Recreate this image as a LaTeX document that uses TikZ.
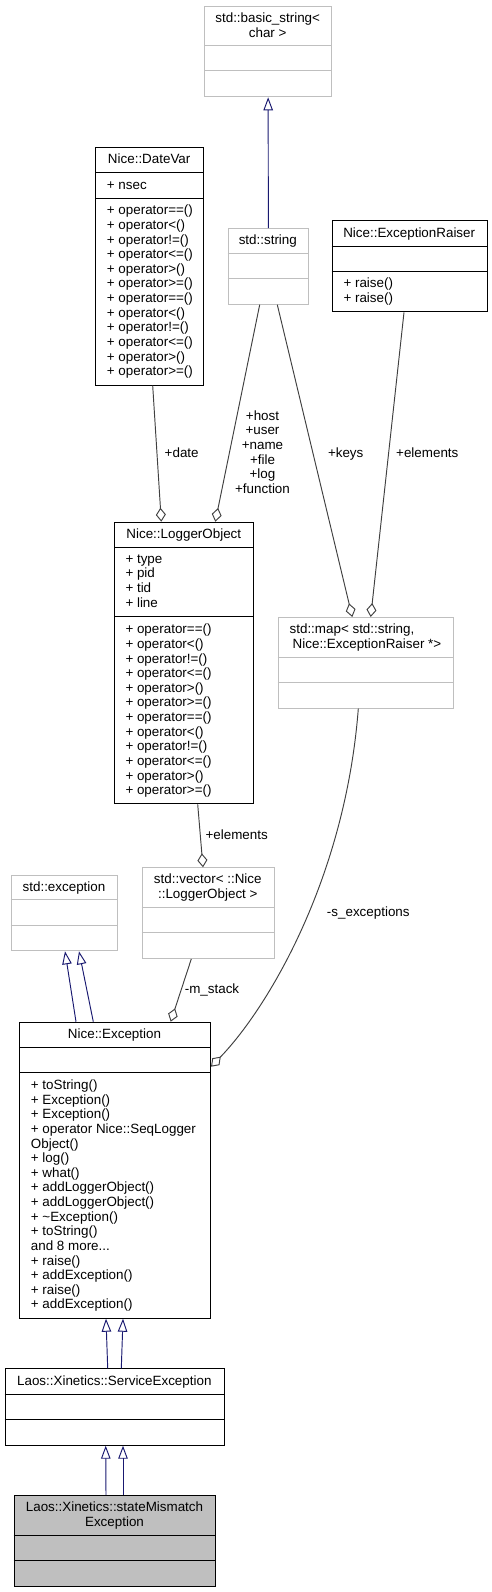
\documentclass[tikz,border=0pt]{standalone}
\usepackage{fontspec}
\setmainfont{Liberation Sans}
\usetikzlibrary{arrows.meta,calc}
\definecolor{edgegray}{HTML}{404040}
\definecolor{inhblue}{HTML}{191970}
\definecolor{boxgray}{HTML}{BFBFBF}
\tikzset{
  blackbox/.style={draw=black, line width=1pt, inner sep=0pt},
  graybox/.style={draw=boxgray, line width=1pt, inner sep=0pt},
  grayfill/.style={draw=black, fill=boxgray, line width=1pt, inner sep=0pt},
  txt/.style={inner sep=0pt, font=\fontsize{13.4}{14.67}\selectfont},
  agg/.style={draw=edgegray, line width=0.95pt, -{Diamond[open, length=14pt, width=10pt]}},
  inh/.style={draw=inhblue, line width=0.95pt, -{Triangle[open, length=13pt, width=9.5pt]}},
}
% name, style, sepcolor, x1, y1, x2, y2, s1, s2
\newcommand{\umlbox}[9]{%
  \node[#2, anchor=north west, minimum width={(#6-#4)*1pt}, minimum height={(#7-#5)*1pt}] (#1) at (#4,#5) {};
  \draw[draw=#3, line width=1pt] (#4,#8) -- (#6,#8);
  \draw[draw=#3, line width=1pt] (#4,#9) -- (#6,#9);
}
% prefix, x, y0 (baseline), anchor, list
\newcommand{\txtlines}[5]{%
  \foreach \t [count=\i from 0] in {#5}
    \node[txt, anchor=#4] (#1\i) at (#2,{#3+\i*14.63}) {\t};
}
\begin{document}
\begin{tikzpicture}[x=1pt, y=-1pt]
\useasboundingbox (0,0) rectangle (492,1592);

% boxes
\umlbox{basic}{graybox}{boxgray}{204.3}{5.7}{331}{96.3}{45.7}{71}
\umlbox{string}{graybox}{boxgray}{227.7}{228}{308}{303.7}{253.3}{278.3}
\umlbox{datevar}{blackbox}{black}{95}{147}{203.3}{384.7}{172.7}{198}
\umlbox{raiser}{blackbox}{black}{331.7}{220.3}{486.7}{311.3}{246}{271.3}
\umlbox{logger}{blackbox}{black}{114.3}{521.7}{253.3}{803.3}{547}{616.7}
\umlbox{map}{graybox}{boxgray}{277.7}{617}{452.7}{707.7}{657.3}{682.7}
\umlbox{stdexc}{graybox}{boxgray}{10.7}{874.7}{117.3}{950.3}{899.7}{925.3}
\umlbox{vector}{graybox}{boxgray}{141.7}{867.3}{274}{958}{907}{932.7}
\umlbox{exc}{blackbox}{black}{19}{1021.7}{210}{1317.7}{1047.3}{1072.7}
\umlbox{svc}{blackbox}{black}{4.7}{1368.3}{224}{1444.7}{1394}{1419.3}
\umlbox{smx}{grayfill}{black}{13.7}{1495}{215.3}{1586}{1535.3}{1560.7}

% titles
\node[txt, anchor=base] (basicT1) at (267.7,22.2) {std::basic\_string<};
\node[txt, anchor=base] (basicT2) at (267.7,37.2) {char >};
\node[txt, anchor=base] (stringT) at (267.8,244.2) {std::string};
\node[txt, anchor=base] (datevarT) at (149.2,163.2) {Nice::DateVar};
\node[txt, anchor=base] (raiserT) at (409.2,237.2) {Nice::ExceptionRaiser};
\node[txt, anchor=base] (loggerT) at (183.8,538.2) {Nice::LoggerObject};
\node[txt, anchor=base] (mapT1) at (352,633.5) {std::map< std::string,};
\node[txt, anchor=base] (mapT2) at (367,648.2) {Nice::ExceptionRaiser *>};
\node[txt, anchor=base] (stdexcT) at (64,891.2) {std::exception};
\node[txt, anchor=base] (vectorT1) at (207.8,883.5) {std::vector< ::Nice};
\node[txt, anchor=base] (vectorT2) at (207.8,898.5) {::LoggerObject >};
\node[txt, anchor=base] (excT) at (114.5,1038) {Nice::Exception};
\node[txt, anchor=base] (svcT) at (114.3,1385.2) {Laos::Xinetics::ServiceException};
\node[txt, anchor=base] (smxT1) at (114.5,1511.2) {Laos::Xinetics::stateMismatch};
\node[txt, anchor=base] (smxT2) at (114.5,1526.2) {Exception};

% members
\node[txt, anchor=base west] (dvA) at (106.7,189.5) {+ nsec};
\txtlines{dvM}{106.7}{214.8}{base west}{+ operator==(),+ operator<(),+ operator!=(),+ operator<=(),+ operator>(),+ operator>=(),+ operator==(),+ operator<(),+ operator!=(),+ operator<=(),+ operator>(),+ operator>=()}
\txtlines{erM}{343.3}{287.5}{base west}{+ raise(),+ raise()}
\txtlines{loA}{125.3}{563.2}{base west}{+ type,+ pid,+ tid,+ line}
\txtlines{loM}{125.3}{633.8}{base west}{+ operator==(),+ operator<(),+ operator!=(),+ operator<=(),+ operator>(),+ operator>=(),+ operator==(),+ operator<(),+ operator!=(),+ operator<=(),+ operator>(),+ operator>=()}
\txtlines{exM}{30.7}{1089.5}{base west}{+ toString(),+ Exception(),+ Exception(),+ operator Nice::SeqLogger,Object(),+ log(),+ what(),+ addLoggerObject(),+ addLoggerObject(),+ \textasciitilde Exception(),+ toString()}
\node[txt, anchor=base west] (exMore) at (30.7,1250.43) {and 8 more...};
\txtlines{exN}{30.7}{1265.06}{base west}{+ raise(),+ addException(),+ raise(),+ addException()}

% connectors
\draw[inh] (string.north) -- (basic.south);
\draw[agg] ($(datevar.south west)+(57.7,0)$) -- ($(logger.north west)+(47,0)$);
\draw[agg] ($(string.south west)+(32,0)$) -- ($(logger.north west)+(101,0)$);
\draw[agg] ($(string.south west)+(49.6,0)$) -- ($(map.north west)+(74.6,0)$);
\draw[agg] ($(raiser.south west)+(72.3,0)$) -- ($(map.north west)+(93,0)$);
\draw[agg] ($(logger.south west)+(83.4,0)$) -- ($(vector.north west)+(61.3,0)$);
\draw[agg] ($(vector.south west)+(49.6,0)$) -- ($(exc.north west)+(151.7,0)$);
\draw[agg] ($(map.south west)+(80.6,0)$) .. controls ($(map.south west)+(67.3,172.3)$) and ($(exc.north east)+(55,-11.7)$) .. ($(exc.north east)+(0,45)$);
\draw[inh] ($(exc.north west)+(57,0)$) -- ($(stdexc.south west)+(54.3,0)$);
\draw[inh] ($(exc.north west)+(74.3,0)$) -- ($(stdexc.south west)+(68.3,0)$);
\draw[inh] ($(svc.north west)+(103,0)$) -- ($(exc.south west)+(87,0)$);
\draw[inh] ($(svc.north west)+(116.6,0)$) -- ($(exc.south west)+(104,0)$);
\draw[inh] ($(smx.north west)+(92.3,0)$) -- ($(svc.south west)+(101,0)$);
\draw[inh] ($(smx.north west)+(109.3,0)$) -- ($(svc.south west)+(118.3,0)$);

% edge labels
\node[txt, anchor=base] (lbdate) at (181.7,457.2) {+date};
\txtlines{lbstr}{262.5}{420.2}{base}{+host,+user,+name,+file,+log,+function}
\node[txt, anchor=base] (lbkeys) at (345.7,457.2) {+keys};
\node[txt, anchor=base] (lbel1) at (427.3,457.2) {+elements};
\node[txt, anchor=base] (lbel2) at (236.7,839.2) {+elements};
\node[txt, anchor=base] (lbsexc) at (368.3,916.2) {-s\_exceptions};
\node[txt, anchor=base] (lbmst) at (212,993.5) {-m\_stack};
\end{tikzpicture}
\end{document}
